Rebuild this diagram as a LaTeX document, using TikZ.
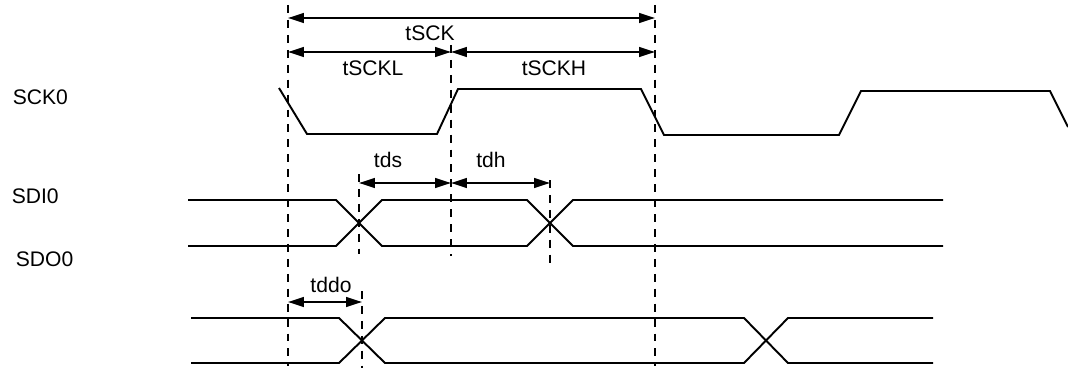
\documentclass[tikz,border=0pt]{standalone}
\usepackage{fontspec}
\setmainfont{Liberation Sans}
\usetikzlibrary{arrows.meta}

\begin{document}
\begin{tikzpicture}[x=0.02cm,y=-0.02cm,font=\fontsize{12}{14}\selectfont,line width=1.1pt,
  guide/.style={dash pattern=on 4.5pt off 4pt,line width=1.1pt},
  dim/.style={{Triangle[length=9pt,width=5.5pt]}-{Triangle[length=9pt,width=5.5pt]},line width=1.1pt}]
\useasboundingbox (0,0) rectangle (1068,368);
% signal names
\node[anchor=west] (sck) at (6, 97) {SCK0};
\node[anchor=west] (sdi) at (5, 196) {SDI0};
\node[anchor=west] (sdo) at (9, 259) {SDO0};
% guide lines
\coordinate (g1a) at (288, 5);
\coordinate (g1b) at (288, 366);
\coordinate (g2a) at (451, 45);
\coordinate (g2b) at (451, 256);
\coordinate (g3a) at (655, 5);
\coordinate (g3b) at (655, 366);
\coordinate (g4a) at (359, 174);
\coordinate (g4b) at (359, 254);
\coordinate (g5a) at (550, 180);
\coordinate (g5b) at (550, 264);
\coordinate (g6a) at (362, 291);
\coordinate (g6b) at (362, 368);
\draw [guide] (g1a) -- (g1b);
\draw [guide] (g2a) -- (g2b);
\draw [guide] (g3a) -- (g3b);
\draw [guide] (g4a) -- (g4b);
\draw [guide] (g5a) -- (g5b);
\draw [guide] (g6a) -- (g6b);
% dimension arrows
\coordinate (k0) at (288, 18);
\coordinate (k1) at (655, 18);
\coordinate (l0) at (288, 52);
\coordinate (l1) at (451, 52);
\coordinate (l2) at (655, 52);
\coordinate (s0) at (359, 183);
\coordinate (s1) at (451, 183);
\coordinate (s2) at (550, 183);
\coordinate (o0) at (288, 302);
\coordinate (o1) at (362, 302);
\draw [dim] (k0) -- (k1);
\draw [dim] (l0) -- (l1);
\draw [dim] (l1) -- (l2);
\draw [dim] (s0) -- (s1);
\draw [dim] (s1) -- (s2);
\draw [dim] (o0) -- (o1);
\node (tsck) at (430, 33) {tSCK};
\node (tsckl) at (373, 68) {tSCKL};
\node (tsckh) at (554, 68) {tSCKH};
\node (tds) at (388, 160) {tds};
\node (tdh) at (491, 160) {tdh};
\node (tddo) at (331, 285) {tddo};
% SCK0
\draw (279, 88) -- (307, 134) -- (437, 134) -- (458, 89) -- (641, 89) -- (664, 135)
  -- (839, 135) -- (861, 91) -- (1050, 91) -- (1068, 127);
% SDI0
\draw (188, 200) -- (336, 200) -- (382, 246) -- (527, 246) -- (573, 200) -- (943, 200);
\draw (188, 246) -- (336, 246) -- (382, 200) -- (527, 200) -- (573, 246) -- (943, 246);
% SDO0
\draw (191, 318) -- (339, 318) -- (385, 363) -- (744, 363) -- (788, 318) -- (933, 318);
\draw (191, 363) -- (339, 363) -- (385, 318) -- (744, 318) -- (788, 363) -- (933, 363);
\end{tikzpicture}
\end{document}
